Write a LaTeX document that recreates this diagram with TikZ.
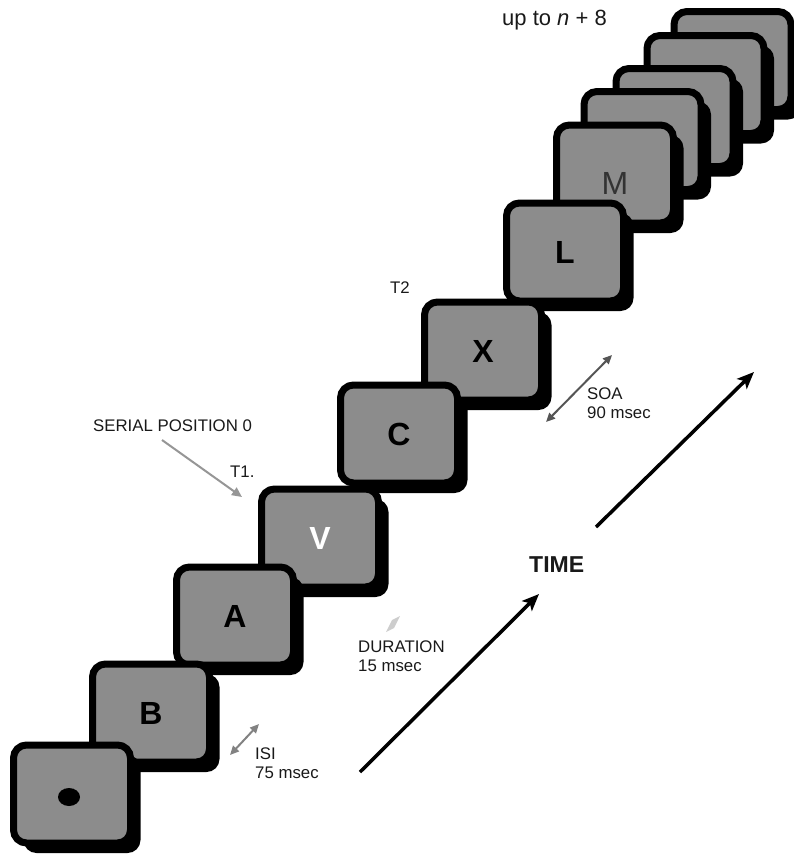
\documentclass[tikz,border=0pt]{standalone}
\usepackage{fontspec}
\setmainfont{Liberation Sans}
\usetikzlibrary{arrows.meta,shadows}
\definecolor{cardgray}{RGB}{140,140,140}
\definecolor{lightarrow}{RGB}{150,150,150}
\definecolor{midarrow}{RGB}{130,130,130}
\definecolor{darkarrow}{RGB}{85,85,85}
\definecolor{diamondgray}{RGB}{205,205,205}
\newcommand{\cardfont}{\fontsize{32}{32}\selectfont\bfseries}
\newcommand{\lblfont}{\fontsize{16.8}{19}\selectfont}
\begin{document}
\begin{tikzpicture}[x={(1pt,0pt)},y={(0pt,-1pt)},
  card/.style={rectangle, rounded corners=13pt, minimum width=117pt, minimum height=98pt,
    inner sep=0pt, draw=black, line width=7pt, fill=cardgray,
    drop shadow={shadow xshift=10pt, shadow yshift=-10pt, fill=black, opacity=1},
    font=\cardfont, text height=22pt, text depth=0pt},
  lbl/.style={inner sep=0pt, font=\lblfont, align=left, text=black!90},
  thinarrow/.style={line width=2pt, -{Triangle[length=10pt,width=9pt]}},
  dblarrow/.style={line width=2pt, {Triangle[length=9pt,width=8pt]}-{Triangle[length=9pt,width=8pt]}},
  timearrow/.style={line width=3.5pt, -{Stealth[length=17pt,width=14pt,inset=4pt]}}]
\useasboundingbox (0,0) rectangle (793,857);
% cards, back to front
\node[card] (e4) at (732.5,60.5) {};
\node[card] (e3) at (705.5,84.5) {};
\node[card] (e2) at (674.5,117.5) {};
\node[card] (e1) at (642.5,140.5) {};
\node[card, font=\fontsize{32}{32}\selectfont, text=black!80] (m) at (615,174) {\raisebox{-9pt}{M}};
\node[card] (l) at (565,252) {L};
\node[card] (x) at (483,351) {X};
\node[card] (c) at (399,434) {C};
\node[card, text=white] (v) at (320,538) {V};
\node[card] (a) at (235,616) {A};
\node[card] (b) at (151,713) {B};
\node[card] (fix) at (72,794) {};
\fill[black] ([xshift=-3pt,yshift=-3pt]fix.center) ellipse [x radius=11pt, y radius=9pt];
% labels
\node[lbl, anchor=west, font=\fontsize{22}{26}\selectfont] (upto) at (502,20) {up to \textit{n} + 8};
\node[lbl, anchor=west] (serial) at (93,426) {SERIAL POSITION 0};
\node[lbl, anchor=west] (t1) at (230,472) {T1.};
\node[lbl, anchor=west] (t2) at (390,288) {T2};
\node[lbl, anchor=west] (soa) at (587,403.5) {SOA\\90 msec};
\node[lbl, anchor=west] (dur) at (358,656.5) {DURATION\\15 msec};
\node[lbl, anchor=west] (isi) at (255,763.5) {ISI\\75 msec};
\node[inner sep=0pt, anchor=west, font=\fontsize{23}{23}\selectfont\bfseries, text=black!90] (time) at (529,565) {TIME};
% arrows
\coordinate (sA) at (162,440); \coordinate (sB) at (242,497);
\draw[thinarrow, lightarrow] (sA) -- (sB);
\coordinate (iA) at (230,755); \coordinate (iB) at (259,724);
\draw[dblarrow, midarrow] (iA) -- (iB);
\coordinate (oA) at (546,422); \coordinate (oB) at (612,355);
\draw[dblarrow, darkarrow] (oA) -- (oB);
\coordinate (tA) at (360,772); \coordinate (tB) at (539,594);
\draw[timearrow] (tA) -- (tB);
\coordinate (uA) at (596,527); \coordinate (uB) at (754,372);
\draw[timearrow] (uA) -- (uB);
% duration marker
\fill[diamondgray] (386,632) -- (392,620) -- (400,616) -- (394,628) -- cycle;
\end{tikzpicture}
\end{document}
